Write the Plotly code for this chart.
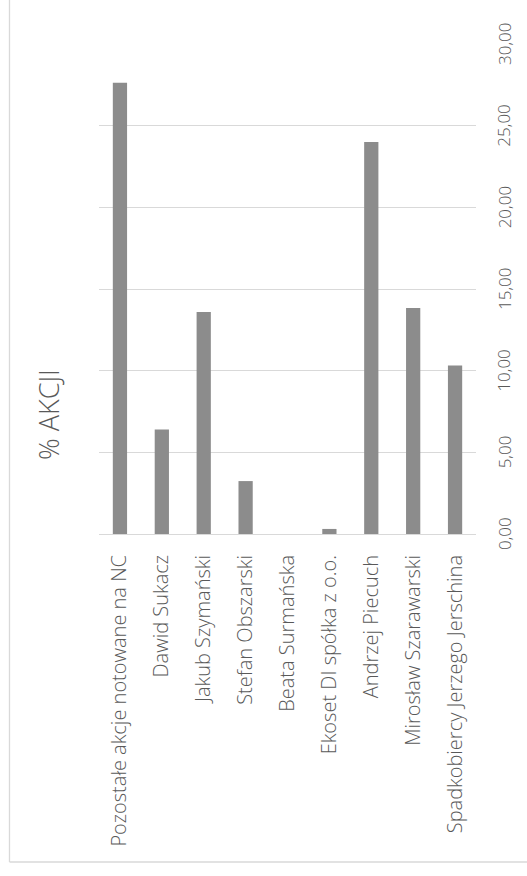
import plotly.graph_objects as go

categories = [
    "Pozostałe akcje notowane na NC",
    "Dawid Sukacz",
    "Jakub Szymański",
    "Stefan Obszarski",
    "Beata Surmańska",
    "Ekoset DI spółka z o.o.",
    "Andrzej Piecuch",
    "Mirosław Szarawarski",
    "Spadkobiercy Jerzego Jerschina",
]
values = [27.62, 6.40, 13.59, 3.24, 0.0, 0.31, 24.00, 13.83, 10.32]
tick_values = [0, 5, 10, 15, 20, 25, 30]
tick_labels = [f"{v:.2f}".replace(".", ",") for v in tick_values]
title_text = "% AKCJI"

W, H = 527, 876
ML, MR, MT, MB = 99, 51, 44, 342
PW = W - ML - MR
PH = H - MT - MB

def px_x(p):
    return (p - ML) / PW

def px_y(p):
    return (H - MB - p) / PH

TXT = "#595959"
FONT = "Open Sans"

fig = go.Figure(
    go.Bar(
        x=categories,
        y=values,
        marker=dict(color="#8c8c8c", line=dict(width=0)),
        width=0.34,
    )
)

annotations = []
for v, t in zip(tick_values, tick_labels):
    annotations.append(dict(
        x=1, xref="paper", xshift=28, y=v, yref="y",
        text=t, textangle=-90, showarrow=False,
        xanchor="center", yanchor="middle",
        font=dict(family=FONT, size=17, color=TXT, weight=300),
    ))
annotations.append(dict(
    x=px_x(48), y=px_y(415), xref="paper", yref="paper",
    text=title_text, textangle=-90, showarrow=False,
    xanchor="center", yanchor="middle",
    font=dict(family=FONT, size=27, color=TXT, weight=300),
))

shapes = [
    dict(type="line", xref="paper", yref="paper",
         x0=px_x(9.5), x1=px_x(9.5), y0=px_y(0), y1=px_y(862),
         line=dict(color="#d9d9d9", width=1.3)),
    dict(type="line", xref="paper", yref="paper",
         x0=px_x(9.5), x1=px_x(527), y0=px_y(862), y1=px_y(862),
         line=dict(color="#d9d9d9", width=1.3)),
]

fig.update_layout(
    width=W, height=H,
    margin=dict(l=ML, r=MR, t=MT, b=MB, pad=0),
    paper_bgcolor="white", plot_bgcolor="white",
    showlegend=False,
    font=dict(family=FONT, color=TXT, size=20),
    annotations=annotations,
    shapes=shapes,
    xaxis=dict(
        tickangle=-90, ticks="", showline=True, linecolor="#d9d9d9", linewidth=1,
        tickfont=dict(family=FONT, size=20, color=TXT, weight=300),
        ticklabelstandoff=12, fixedrange=True,
    ),
    yaxis=dict(
        range=[0, 30], dtick=5, tick0=0, showticklabels=False,
        showgrid=True, gridcolor="#d9d9d9", gridwidth=1,
        zeroline=False, ticks="", fixedrange=True,
    ),
)

fig.write_html("out.html")
